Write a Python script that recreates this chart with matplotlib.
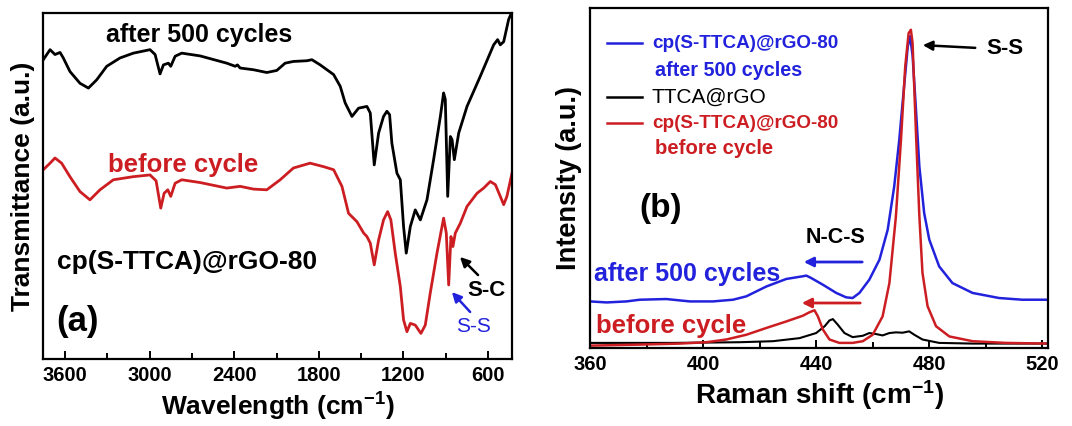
import matplotlib
matplotlib.use("Agg")
import matplotlib.pyplot as plt

plt.rcParams["font.family"] = ["Liberation Sans", "DejaVu Sans"]
plt.rcParams["font.weight"] = "bold"
plt.rcParams["axes.labelweight"] = "bold"
plt.rcParams["mathtext.fontset"] = "custom"
plt.rcParams["mathtext.rm"] = "Liberation Sans:bold"
plt.rcParams["mathtext.bf"] = "Liberation Sans:bold"
plt.rcParams["mathtext.default"] = "bf"

RED = "#cc1e22"
BLUE = "#2222dd"

# (a) FTIR
ftir_wn_after = [3754, 3706, 3671, 3635, 3612, 3565, 3494, 3434, 3375, 3304, 3210, 3115, 2997, 2961,
                 2926, 2902, 2867, 2850, 2819, 2772, 2642, 2453, 2393, 2377, 2358, 2263, 2169, 2098,
                 2039, 1980, 1885, 1849, 1790, 1695, 1648, 1613, 1565, 1518, 1459, 1435, 1407, 1376,
                 1341, 1317, 1298, 1282, 1246, 1222, 1199, 1180, 1151, 1116, 1080, 1033, 986, 938,
                 915, 903, 886, 867, 855, 839, 808, 749, 655, 560, 532, 513, 489, 454, 430]
ftir_after = [86.5, 89.4, 88.0, 88.6, 87.0, 83.1, 79.7, 78.3, 80.7, 84.6, 87.0, 88.4, 89.4, 88.0,
              82.4, 85.0, 85.5, 84.6, 87.5, 88.4, 87.6, 85.5, 84.6, 85.0, 84.1, 83.6, 82.8, 83.4,
              85.5, 86.0, 86.2, 86.5, 85.0, 82.2, 78.8, 74.0, 70.1, 72.5, 73.0, 71.1, 56.1, 65.3,
              70.1, 71.6, 70.6, 62.4, 53.7, 51.8, 38.3, 30.6, 38.3, 43.1, 40.2, 46.0, 57.6, 70.1,
              76.9, 75.0, 47.0, 64.3, 63.4, 57.6, 65.3, 73.0, 81.7, 90.8, 92.3, 90.8, 91.7, 98.1, 100.4]

ftir_wn_before = [3754, 3706, 3671, 3624, 3565, 3494, 3423, 3352, 3257, 3115, 2997, 2954, 2921, 2897,
                  2871, 2850, 2819, 2772, 2642, 2453, 2358, 2263, 2169, 2074, 1980, 1862, 1767, 1695,
                  1636, 1589, 1530, 1482, 1459, 1435, 1407, 1376, 1341, 1312, 1289, 1258, 1222, 1199,
                  1175, 1151, 1116, 1076, 1045, 1010, 962, 915, 896, 879, 863, 849, 832, 797, 749,
                  678, 631, 584, 548, 513, 489, 466, 430]
ftir_before = [54.7, 56.6, 58.1, 56.6, 52.7, 48.4, 46.0, 48.9, 51.8, 52.7, 53.2, 51.5, 43.6, 47.9,
               48.9, 47.0, 50.8, 51.8, 51.0, 49.4, 49.9, 49.1, 48.9, 51.8, 55.2, 56.6, 55.6, 54.7,
               49.9, 42.1, 39.7, 36.4, 35.4, 33.5, 27.2, 34.4, 40.2, 42.6, 40.2, 30.6, 20.9, 11.3,
               7.9, 10.3, 9.8, 7.4, 9.8, 19.0, 30.6, 40.7, 36.4, 21.4, 35.4, 32.5, 36.4, 39.2, 44.1,
               47.9, 49.4, 51.3, 50.4, 47.0, 44.6, 47.0, 53.7]

# (b) Raman
raman_x_after = [360, 365.9, 372.9, 377.6, 387, 395.3, 403.5, 410.6, 415.3, 422.4, 429.4, 435.3,
                 436.5, 438.2, 442.4, 447.1, 450.6, 452.9, 455.3, 458.8, 462.4, 465.3, 467.6, 469.4,
                 471.2, 472.4, 473.2, 474.1, 475.3, 476.5, 478.2, 480, 483.5, 488.2, 495.3, 504.7,
                 512.9, 521.8]
raman_after = [13.7, 13.4, 13.7, 14.2, 14.4, 13.7, 13.7, 14.2, 15.2, 18.1, 20.3, 21.1,
               21.3, 20.6, 18.6, 16.2, 14.9, 14.7, 16.2, 20.1, 26.0, 34.8, 47.5, 61.3,
               77.9, 88.7, 91.7, 86.0, 70.1, 53.4, 39.7, 31.9, 24.0, 19.1, 16.2, 14.7,
               14.2, 14.2]

raman_x_before = [360, 377.6, 391.8, 401.2, 408.2, 415.3, 422.4, 429.4, 435.3, 437.6, 439.4, 440.6,
                  442.4, 444.7, 448.2, 452.9, 456.5, 460, 463.5, 465.9, 468.2, 470, 471.5, 472.7,
                  473.5, 474.1, 475.3, 476.5, 477.6, 479.4, 482.4, 487.1, 495.3, 507, 521.8]
raman_before = [0.7, 1.0, 1.3, 1.7, 2.5, 3.9, 5.9, 7.8, 9.5, 10.5, 11.1, 9.3,
                5.4, 2.5, 1.5, 1.5, 2.0, 3.9, 9.3, 19.1, 38.7, 61.3, 82.8, 92.6,
                93.6, 89.7, 63.2, 38.7, 22.1, 12.3, 6.4, 3.4, 2.0, 1.5, 1.3]

raman_x_ttca = [360, 389.4, 412.9, 424.7, 434.1, 440, 443, 444.7, 445.9, 447.6, 450, 452.9, 456.5,
                458.8, 461.2, 463.5, 465.9, 468.2, 470.6, 472.9, 474.7, 477.6, 483.5, 495.3, 521.8]
raman_ttca = [1.5, 1.5, 1.7, 2.0, 2.9, 4.4, 6.4, 8.1, 8.5, 6.9, 4.4, 3.2, 3.6,
              4.4, 4.1, 3.7, 4.4, 4.6, 4.5, 4.9, 3.9, 2.5, 1.5, 1.3, 1.3]

W, H = 1072, 426
fig = plt.figure(figsize=(W / 100, H / 100), dpi=100)


def px(x, y):
    return x / W, 1 - y / H


def style(ax):
    for s in ax.spines.values():
        s.set_linewidth(1.6)
    ax.set_yticks([])
    ax.tick_params(axis="x", which="both", direction="in", top=False, labelsize=14.5, width=1.4, pad=5)
    ax.tick_params(axis="x", which="major", length=6)
    ax.tick_params(axis="x", which="minor", length=4)


# ---- panel (a)
ax1 = fig.add_axes([43 / W, 67 / H, 469 / W, 346 / H])
ax1.plot(ftir_wn_after, ftir_after, color="black", lw=2)
ax1.plot(ftir_wn_before, ftir_before, color=RED, lw=2)
ax1.set_xlim(3756, 430)
ax1.set_ylim(0, 100)
ax1.set_xticks([3600, 3000, 2400, 1800, 1200, 600])
ax1.set_xticks([3300, 2700, 2100, 1500, 900], minor=True)
style(ax1)
ax1.set_xlabel("Wavelength (cm$^{-1}$)", fontsize=19, labelpad=4)
ax1.set_ylabel("Transmittance (a.u.)", fontsize=19, labelpad=6)

fig.text(*px(106, 35), "after 500 cycles", fontsize=18, va="center")
fig.text(*px(108, 165), "before cycle", fontsize=18.5, color=RED, va="center")
fig.text(*px(57, 262), "cp(S-TTCA)@rGO-80", fontsize=19, va="center")
fig.text(*px(56, 322), "(a)", fontsize=25, va="center")
fig.text(*px(467, 290), "S-C", fontsize=16, va="center")
fig.text(*px(456, 326), "S-S", fontsize=15, color=BLUE, fontweight="normal", va="center")
ax1.annotate("", xy=px(458, 255), xytext=px(480, 277), xycoords="figure fraction",
             arrowprops=dict(arrowstyle="-|>", color="black", lw=1.8, mutation_scale=14))
ax1.annotate("", xy=px(450, 290), xytext=px(472, 314), xycoords="figure fraction",
             arrowprops=dict(arrowstyle="-|>", color=BLUE, lw=1.8, mutation_scale=14))

# ---- panel (b)
ax2 = fig.add_axes([590 / W, 78 / H, 458 / W, 340 / H])
ax2.plot(raman_x_after, raman_after, color=BLUE, lw=1.8)
ax2.plot(raman_x_ttca, raman_ttca, color="black", lw=1.5)
ax2.plot(raman_x_before, raman_before, color=RED, lw=1.8)
ax2.set_xlim(360, 522)
ax2.set_ylim(0, 100)
ax2.set_xticks([360, 400, 440, 480, 520])
ax2.set_xticks([380, 420, 460, 500], minor=True)
style(ax2)
ax2.set_xlabel("Raman shift (cm$^{-1}$)", fontsize=20, labelpad=3)
ax2.set_ylabel("Intensity (a.u.)", fontsize=19.5, labelpad=6)

# hand-drawn legend
for y, c in [(43, BLUE), (97, "black"), (123, RED)]:
    ax2.plot([607 / W, 642 / W], [1 - y / H, 1 - y / H], color=c, lw=1.8,
             transform=fig.transFigure, clip_on=False)
fig.text(*px(652, 43), "cp(S-TTCA)@rGO-80", fontsize=13.6, color=BLUE, va="center")
fig.text(*px(655, 70), "after 500 cycles", fontsize=14.2, color=BLUE, va="center")
fig.text(*px(652, 97), "TTCA@rGO", fontsize=15, fontweight="normal", va="center")
fig.text(*px(652, 123), "cp(S-TTCA)@rGO-80", fontsize=13.6, color=RED, va="center")
fig.text(*px(655, 149), "before cycle", fontsize=14.6, color=RED, va="center")

fig.text(*px(639, 209), "(b)", fontsize=24, va="center")
fig.text(*px(806, 238), "N-C-S", fontsize=15.5, va="center")
fig.text(*px(986, 49), "S-S", fontsize=16, va="center")
fig.text(*px(594, 274), "after 500 cycles", fontsize=18, color=BLUE, va="center")
fig.text(*px(596, 326), "before cycle", fontsize=18.5, color=RED, va="center")

ax2.annotate("", xy=px(920, 45), xytext=px(978, 48), xycoords="figure fraction",
             arrowprops=dict(arrowstyle="-|>", color="black", lw=1.8, mutation_scale=14))
ax2.annotate("", xy=px(801, 262), xytext=px(865, 262), xycoords="figure fraction",
             arrowprops=dict(arrowstyle="-|>", color=BLUE, lw=2, mutation_scale=14))
ax2.annotate("", xy=px(799, 303), xytext=px(863, 303), xycoords="figure fraction",
             arrowprops=dict(arrowstyle="-|>", color=RED, lw=2, mutation_scale=14))

fig.savefig("out.png", dpi=100)
